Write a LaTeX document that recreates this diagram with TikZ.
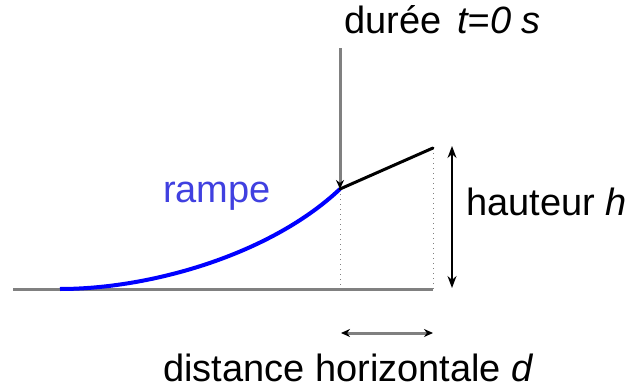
\documentclass[tikz,border=0pt]{standalone}
\usepackage{fontspec}
\setmainfont{Liberation Sans}
\usepackage{xcolor}
\definecolor{rampblue}{rgb}{0.00,0.00,1.00}
\definecolor{labelblue}{rgb}{0.25,0.25,0.88}
\definecolor{halfgray}{gray}{0.50}
\usepackage{tikz}
\usetikzlibrary{arrows.meta,positioning,calc}
\tikzset{
  groundline/.style={draw=halfgray,line width=3pt},
  rampline/.style={draw=rampblue,line width=4pt},
  trackline/.style={draw=black,line width=3pt},
  ghostline/.style={draw=halfgray,line width=1pt,dash pattern=on 1pt off 4pt},
  pointer/.style={draw=halfgray,line width=3pt,-{Stealth[black,length=9pt,width=8pt]}},
  dimgray/.style={draw=halfgray,line width=3pt,
                  {Stealth[black,length=9pt,width=8pt]}-{Stealth[black,length=9pt,width=8pt]}},
  dimblack/.style={draw=black,line width=1.4pt,
                  {Stealth[black,length=12pt,width=9pt]}-{Stealth[black,length=12pt,width=9pt]}},
  lbl/.style={inner sep=0pt,anchor=base west},
}

\begin{document}
\begin{tikzpicture}[x=1pt,y=-1pt,font=\fontsize{38}{44}\selectfont]
  \useasboundingbox (0,0) rectangle (630,388);
  % points of the track
  \coordinate (g0) at (13,289);
  \coordinate (p0) at (60,289);
  \coordinate (p1) at (340,189);
  \coordinate (p2) at (433,148);
  \coordinate (f1) at (340,289);
  \coordinate (f2) at (433,289);
  \draw[groundline] (g0) -- (f2);
  \draw[ghostline] (p1) -- (f1);
  \draw[ghostline] (p2) -- (f2);
  \draw[rampline] (p0) .. controls (150,289) and (270,255) .. (p1);
  \draw[trackline,line cap=round] (p1) -- (p2);
  % labels
  \node[lbl] (duree) at (344,33) {durée\hspace{16pt}\textit{t=0 s}};
  \node[lbl,text=labelblue] (rampe) at (163,202) {rampe};
  \node[lbl] (haut) at (466,215) {hauteur \textit{h}};
  \node[lbl] (dist) at (163,381) {distance horizontale \textit{d}};
  % arrows
  \coordinate (ptop) at (340,48);
  \draw[pointer] (ptop) -- (p1);
  \coordinate (htop) at (452,146);
  \coordinate (hbot) at (452,288);
  \draw[dimblack] (htop) -- (hbot);
  \coordinate (dl) at (341,333);
  \coordinate (dr) at (433,333);
  \draw[dimgray] (dl) -- (dr);
\end{tikzpicture}
\end{document}
